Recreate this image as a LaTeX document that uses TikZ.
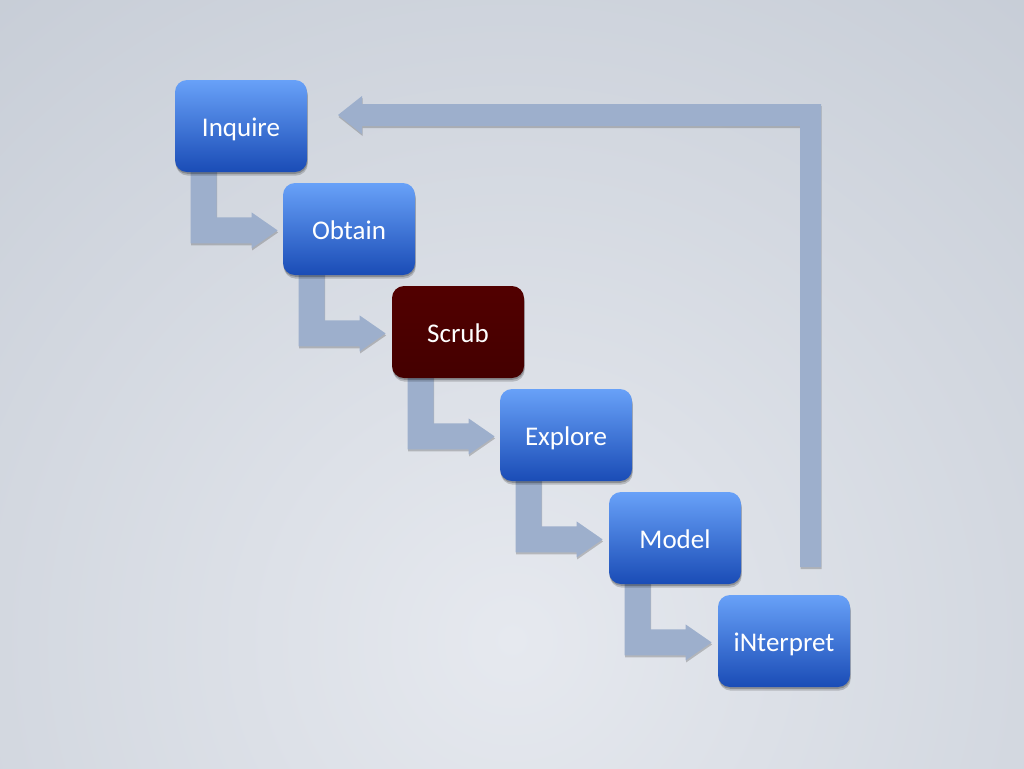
\documentclass[tikz,border=0pt]{standalone}
\usepackage{fontspec}
\setmainfont{Carlito}
\usetikzlibrary{calc,shadows}
\definecolor{bgin}{HTML}{E6E9EF}
\definecolor{bgout}{HTML}{A9B2BF}
\definecolor{arr}{HTML}{9DAFCC}
\definecolor{btop}{HTML}{68A1F8}
\definecolor{bbot}{HTML}{1A4CB6}
\definecolor{rtop}{HTML}{520000}
\definecolor{rbot}{HTML}{440000}
\tikzset{
  slot/.style={minimum width=66pt, minimum height=46pt, inner sep=0pt},
  box/.style={slot, rounded corners=6pt,
    top color=btop, bottom color=bbot, text=white,
    font=\fontsize{13.5}{16}\selectfont, text height=10pt, text depth=0pt,
    drop shadow={shadow xshift=0.4pt, shadow yshift=-1.8pt, opacity=0.18, fill=black},
    drop shadow={shadow xshift=0.2pt, shadow yshift=-0.9pt, opacity=0.22, fill=black}},
  redbox/.style={box, top color=rtop, bottom color=rbot},
  blockarrow/.style={fill=arr, draw=none,
    drop shadow={shadow xshift=0.3pt, shadow yshift=-1pt, opacity=0.3, fill=black!70}}
}
\newcommand{\elbow}[1]{%
  \fill[blockarrow] ($(#1.south west)+(16,-6)$) -- ($(#1.south west)+(16,71)$)
    -- ($(#1.south west)+(77,71)$) -- ($(#1.south west)+(77,76)$)
    -- ($(#1.south west)+(103,58)$) -- ($(#1.south west)+(77,40)$)
    -- ($(#1.south west)+(77,45)$) -- ($(#1.south west)+(42,45)$)
    -- ($(#1.south west)+(42,-6)$) -- cycle;}
\begin{document}
\begin{tikzpicture}[x=0.5pt,y=-0.5pt]
\useasboundingbox (0,0) rectangle (1024,768);
\begin{scope}
\clip (0,0) rectangle (1024,768);
\shade[inner color=bgin, outer color=bgout] (512,640) circle (1650);
\end{scope}
% invisible slots to get anchors for the connectors
\node[slot] (I) at (241,126) {};
\node[slot] (O) at (349,229) {};
\node[slot] (S) at (458,332) {};
\node[slot] (E) at (566,435) {};
\node[slot] (M) at (675,538) {};
\node[slot] (N) at (784,641) {};
\elbow{I}
\elbow{O}
\elbow{S}
\elbow{E}
\elbow{M}
% return arrow
\coordinate (rtip) at (338,115);
\coordinate (rbase) at (821,567);
\fill[blockarrow] (rbase) -- (rbase |- 0,104) -- (362,104) -- (362,96) -- (rtip)
   -- (362,134) -- (362,126) -- (800,126) -- (800,567) -- cycle;
\node[box] (I) at (241,126) {Inquire};
\node[box] (O) at (349,229) {Obtain};
\node[redbox] (S) at (458,332) {Scrub};
\node[box] (E) at (566,435) {Explore};
\node[box] (M) at (675,538) {Model};
\node[box] (N) at (784,641) {iNterpret};
\end{tikzpicture}
\end{document}
